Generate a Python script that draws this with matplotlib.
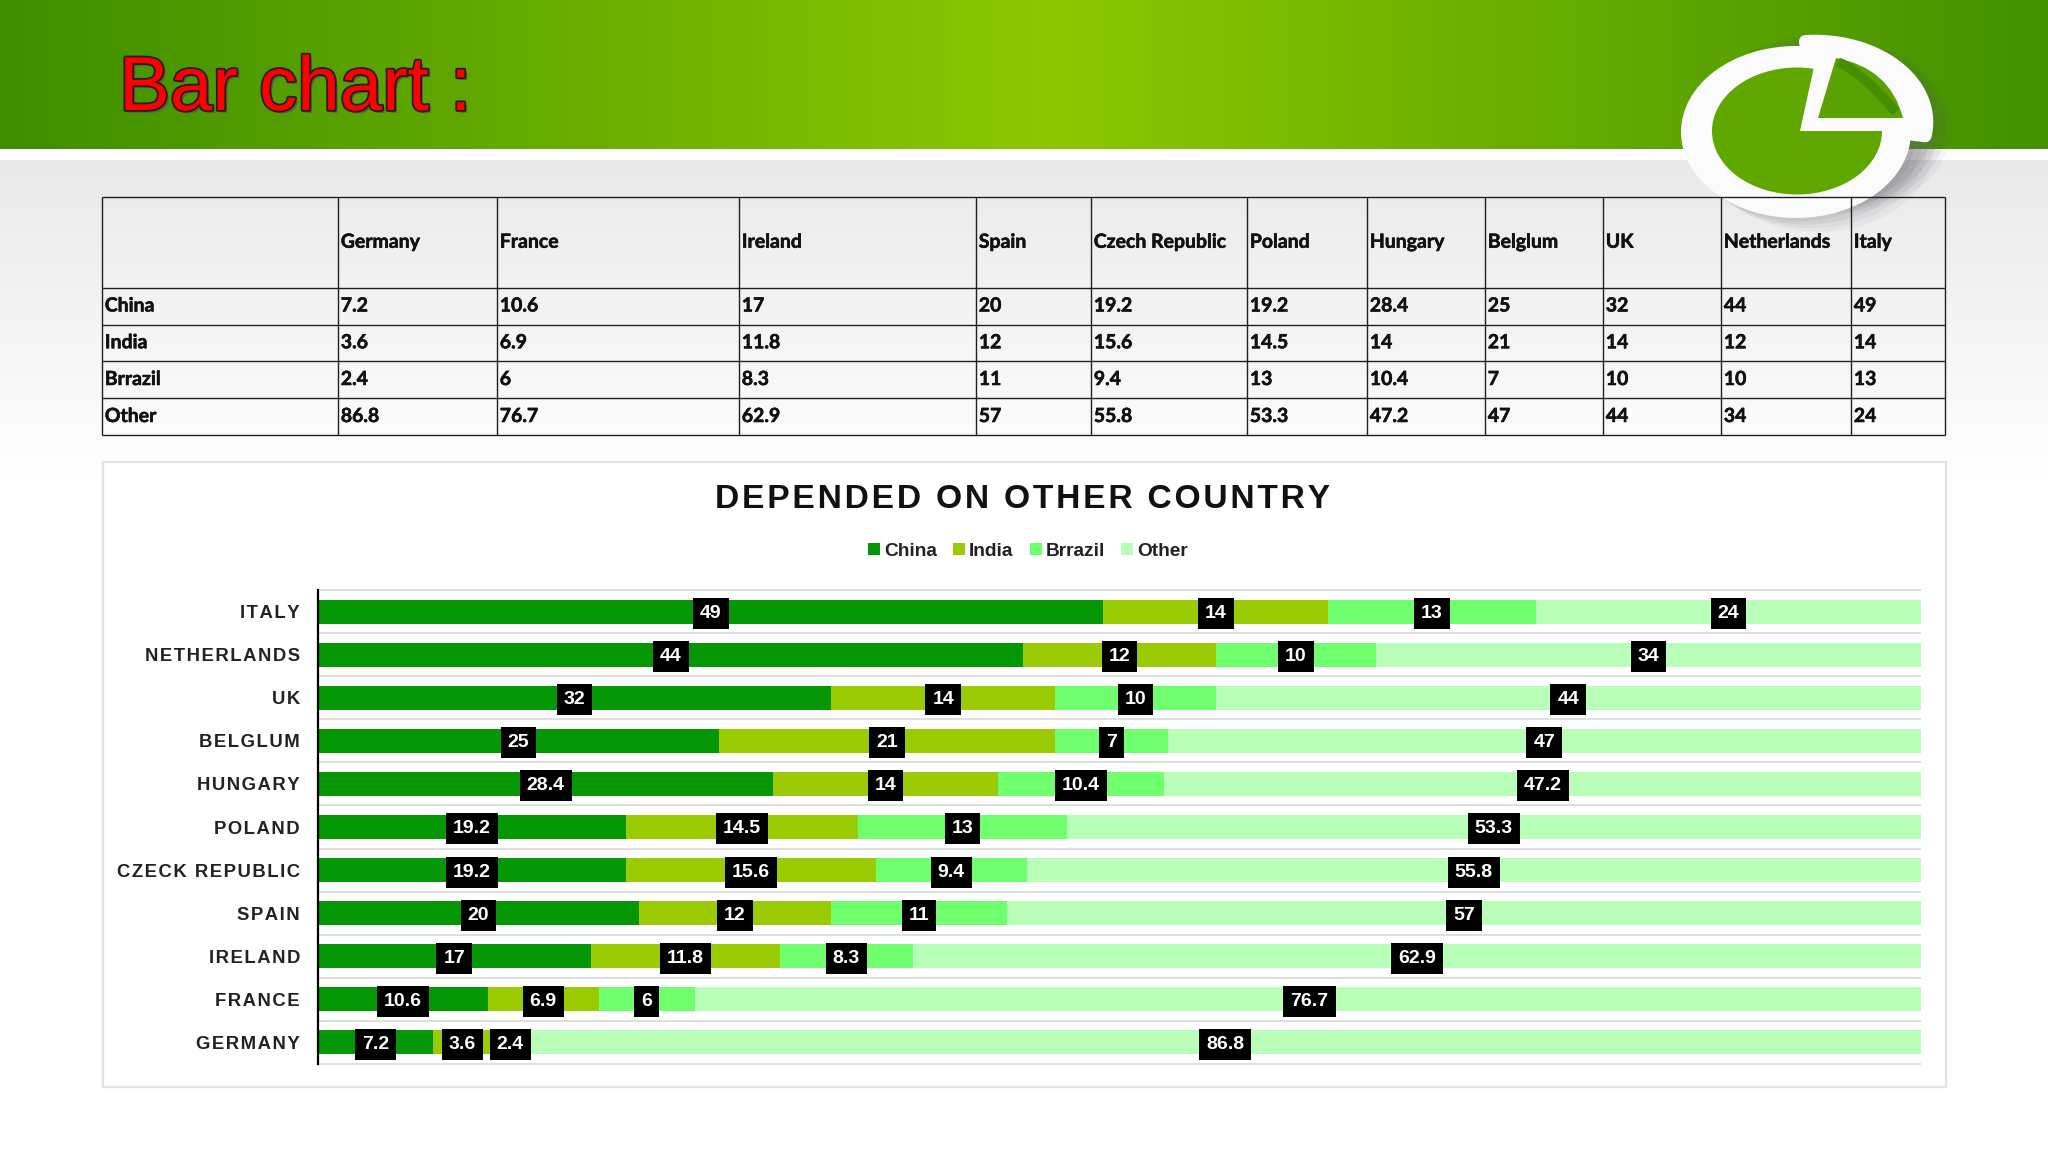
import numpy as np
import matplotlib
matplotlib.use("Agg")
import matplotlib.pyplot as plt
import matplotlib.patheffects as pe
from matplotlib.patches import Ellipse, PathPatch, Polygon, Rectangle
from matplotlib.path import Path

countries = ["Germany", "France", "Ireland", "Spain", "Czech Republic", "Poland",
             "Hungary", "Belglum", "UK", "Netherlands", "Italy"]
row_labels = ["GERMANY", "FRANCE", "IRELAND", "SPAIN", "CZECK REPUBLIC", "POLAND",
              "HUNGARY", "BELGLUM", "UK", "NETHERLANDS", "ITALY"]
series_names = ["China", "India", "Brrazil", "Other"]
china = [7.2, 10.6, 17, 20, 19.2, 19.2, 28.4, 25, 32, 44, 49]
india = [3.6, 6.9, 11.8, 12, 15.6, 14.5, 14, 21, 14, 12, 14]
brazil = [2.4, 6, 8.3, 11, 9.4, 13, 10.4, 7, 10, 10, 13]
other = [86.8, 76.7, 62.9, 57, 55.8, 53.3, 47.2, 47, 44, 34, 24]
series_values = [china, india, brazil, other]
series_colors = ["#049604", "#9BCB04", "#6EFE6E", "#B8FEB8"]

W, H = 2048, 1152
HAIR = "\u200a"


def spaced(s):
    return HAIR.join(s)


fig = plt.figure(figsize=(W / 100, H / 100), dpi=100)

# page background, pixel coordinates
bg = fig.add_axes([0, 0, 1, 1])
bg.set_xlim(0, W)
bg.set_ylim(H, 0)
bg.axis("off")

img = np.ones((H, W, 3))
t = np.clip(1 - np.abs(np.arange(W) - 1050) / 1050, 0, 1)[None, :, None]
dark = np.array([0x3E, 0x8E, 0x00]) / 255
light = np.array([0x8C, 0xC8, 0x00]) / 255
img[:149] = dark + (light - dark) * t
fade = np.clip((np.arange(H) - 160) / 320, 0, 1)[:, None, None]
lower = np.array([0xE9, 0xE9, 0xEB]) / 255 + (1 - np.array([0xE9, 0xE9, 0xEB]) / 255) * fade
img[160:] = lower[160:]
bg.imshow(img, extent=(0, W, H, 0), aspect="auto", zorder=0)

# logo
for off, a in [(0, 0.10), (6, 0.10), (12, 0.08), (18, 0.06)]:
    bg.add_patch(Ellipse((1800 + off, 135 + off * 0.6), 232, 172, color="#70707a", alpha=a, lw=0, zorder=1))
    bg.add_patch(Ellipse((1818 + off, 122 + off * 0.3), 232, 172, color="#555560", alpha=a, lw=0, zorder=1))
bg.add_patch(Ellipse((1796, 132), 230, 172, color="#fbfbfb", lw=0, zorder=2))
# raised slice of the ring, a quarter of an ellipse with rounded corners
theta = np.radians(np.linspace(-10, 95, 40))
arc = np.column_stack([1815 + 112 * np.cos(theta), 122 - 81 * np.sin(theta)])
bg.add_patch(Polygon(np.vstack([[(1815, 122)], arc]), closed=True, fc="#fbfbfb", ec="#fbfbfb", lw=9,
                     joinstyle="round", zorder=2))
bg.add_patch(Ellipse((1797, 131), 170, 127, color="#60A800", lw=0, zorder=3))
bg.add_patch(Polygon([(1800, 131), (1815, 62), (1900, 62), (1900, 131)], closed=True, fc="#fbfbfb", lw=0, zorder=4))
slice_path = Path([(1818, 118), (1836, 58), (1890, 68), (1903, 118), (1818, 118)],
                  [Path.MOVETO, Path.LINETO, Path.CURVE3, Path.CURVE3, Path.CLOSEPOLY])
bg.add_patch(PathPatch(slice_path, fc="#5AA200", lw=0, zorder=5))
streak = Path([(1838, 62), (1862, 72), (1896, 112)], [Path.MOVETO, Path.CURVE3, Path.CURVE3])
bg.add_patch(PathPatch(streak, fc="none", ec="#3F8A00", lw=7, alpha=0.8, zorder=6))

# slide heading
bg.text(119, 110, "Bar chart :", fontsize=55, family="Liberation Sans", color="#FF0000", va="baseline",
        zorder=8, path_effects=[pe.withSimplePatchShadow(offset=(2, -2), shadow_rgbFace="#555555", alpha=0.8),
                                pe.withStroke(linewidth=2.6, foreground="#2a1a1a")])

# table
col_edges = [102, 338, 497, 739, 976, 1091, 1247, 1367, 1485, 1603, 1721, 1851, 1945]
row_edges = [197, 287.5, 324.5, 361, 398, 435]
line_kw = dict(color="#202020", lw=1.0, zorder=9)
bg.vlines(col_edges, row_edges[0], row_edges[-1], **line_kw)
bg.hlines(row_edges, col_edges[0], col_edges[-1], **line_kw)
text_kw = dict(family="Lato", weight="bold", fontsize=14, color="#111111", va="center", zorder=10,
               path_effects=[pe.withStroke(linewidth=0.4, foreground="#111111")])
for i, name in enumerate(countries):
    bg.text(col_edges[i + 1] + 2.8, (row_edges[0] + row_edges[1]) / 2, name, **text_kw)
for j, (name, vals) in enumerate(zip(series_names, series_values)):
    y = (row_edges[j + 1] + row_edges[j + 2]) / 2
    bg.text(col_edges[0] + 2.8, y, name, **text_kw)
    for i, v in enumerate(vals):
        bg.text(col_edges[i + 1] + 2.8, y, f"{v:g}", **text_kw)

# chart panel
bg.add_patch(Rectangle((102.5, 462), 1843, 625, fc="white", ec="#e3e3e5", lw=1.6, zorder=1.5))
bg.text(1023, 500, spaced("DEPENDED ON OTHER COUNTRY"), fontsize=24.2, weight="bold", family="Liberation Sans",
        color="#111111", ha="center", va="center", zorder=10)

# stacked bars
ax = fig.add_axes([318 / W, 1 - 1064 / H, (1921 - 318) / W, (1064 - 590) / H], zorder=2)
ax.patch.set_alpha(0)
y = np.arange(len(countries))
left = np.zeros(len(countries))
for name, vals, color in zip(series_names, series_values, series_colors):
    vals = np.array(vals)
    ax.barh(y, vals, left=left, height=0.557, color=color, label=name, zorder=2)
    for yi, l, v in zip(y, left, vals):
        ax.text(l + v / 2, yi - 0.045, f"{v:g}", color="white", fontsize=14, weight="bold", family="Liberation Sans",
                ha="center", va="center", zorder=5,
                bbox=dict(boxstyle="square,pad=0.36", fc="black", ec="none"))
    left += vals

ax.set_xlim(0, 100)
ax.set_ylim(-0.5, len(countries) - 0.5)
ax.set_yticks(y)
ax.set_yticklabels([spaced(s) for s in row_labels], fontsize=13.3, weight="bold", family="Liberation Sans", color="#222222")
ax.set_xticks([])
ax.tick_params(axis="y", length=0, pad=13)
ax.hlines(np.arange(-0.5, len(countries)), 0, 100, color="#dcdcdc", lw=1.3, zorder=1, clip_on=False)
for s in ["top", "right", "bottom"]:
    ax.spines[s].set_visible(False)
ax.spines["left"].set_color("black")
ax.spines["left"].set_linewidth(1.6)

handles, labels = ax.get_legend_handles_labels()
fig.legend(handles, labels, loc="center", bbox_to_anchor=(1028 / W, 1 - 551 / H), ncols=4, frameon=False,
           prop=dict(family="Liberation Sans", weight="bold", size=13.8), labelcolor="#222222",
           handlelength=0.62, handleheight=0.62, handletextpad=0.22, columnspacing=0.85)

fig.savefig("out.png", dpi=100)
plt.close(fig)
